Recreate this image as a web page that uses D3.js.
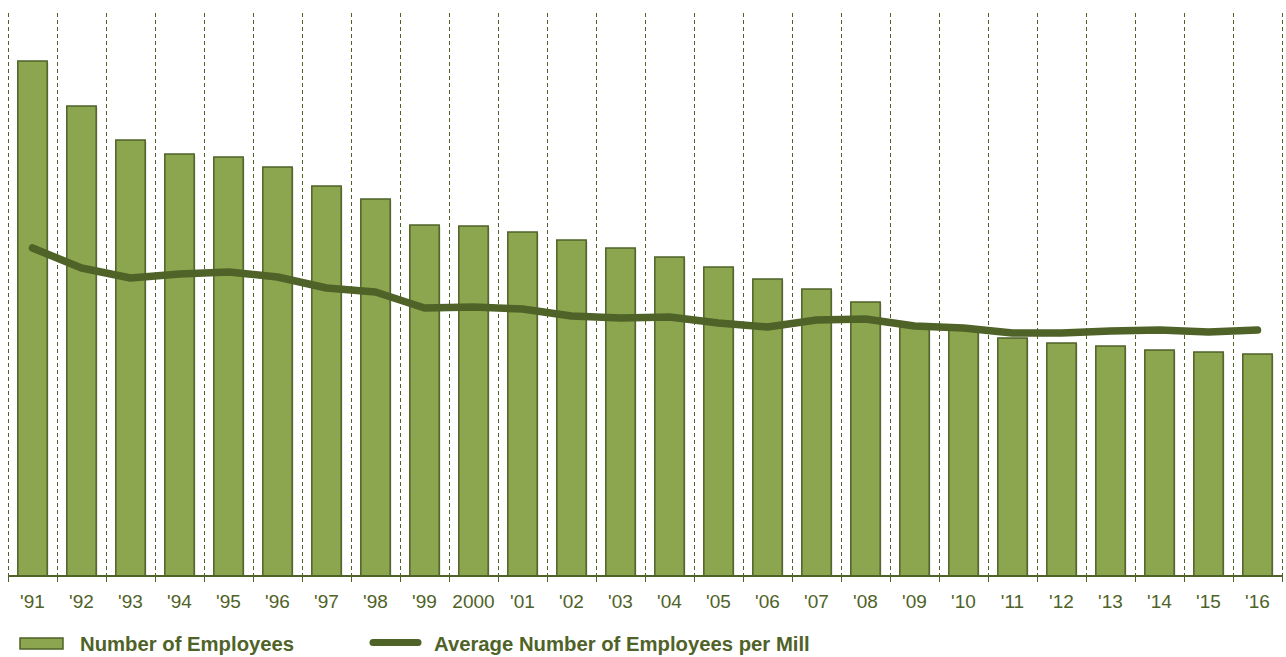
<!DOCTYPE html>
<html>
<head>
<meta charset="utf-8">
<script src="https://cdn.jsdelivr.net/npm/d3@7"></script>
<style>
  html, body { margin: 0; padding: 0; background: #fff; }
  svg { display: block; font-family: "Liberation Sans", Arial, sans-serif; }
</style>
</head>
<body>
<svg id="chart" width="1286" height="657"></svg>
<script>
// Data (relative units)
const categories = ["'91","'92","'93","'94","'95","'96","'97","'98","'99","2000","'01","'02","'03","'04","'05","'06","'07","'08","'09","'10","'11","'12","'13","'14","'15","'16"];
const employees = [515, 470, 436, 422, 419, 409, 390, 377, 351, 350, 344, 336, 328, 319, 309, 297, 287, 274, 251, 247, 238, 233, 230, 226, 224, 222];
const perMill = [328, 308, 298, 302, 304, 299, 288, 284, 268, 269, 267, 260, 258, 259, 253, 249, 256, 257, 250, 248, 243, 243, 245, 246, 244, 246];
const seriesNames = ["Number of Employees", "Average Number of Employees per Mill"];

const dark = "#4f6228";
const barFill = "#8ba64f";

const svg = d3.select("#chart");
const plotLeft = 8, plotRight = 1282, plotBase = 576, plotTop = 13;

const x = d3.scaleBand().domain(categories).range([plotLeft, plotRight]).paddingInner(0.4).paddingOuter(0.2);
const y = d3.scaleLinear().domain([0, 563]).range([plotBase, plotTop]);
const step = x.step();

// vertical dashed gridlines at category boundaries
const bounds = d3.range(categories.length + 1).map(i => plotLeft + i * step + 0.5);
svg.append("g").selectAll("line").data(bounds).join("line")
  .attr("x1", d => d).attr("x2", d => d)
  .attr("y1", plotTop).attr("y2", plotBase)
  .attr("stroke", dark).attr("stroke-width", 1).attr("stroke-dasharray", "4,3");

// bar shadows
svg.append("g").selectAll("rect").data(employees).join("rect")
  .attr("x", (d, i) => x(categories[i]) + 1.5)
  .attr("y", d => y(d) + 1.5)
  .attr("width", x.bandwidth())
  .attr("height", d => plotBase - y(d) - 1.5)
  .attr("fill", "#000").attr("opacity", 0.12);

// bars
svg.append("g").selectAll("rect").data(employees).join("rect")
  .attr("x", (d, i) => x(categories[i]))
  .attr("y", d => y(d))
  .attr("width", x.bandwidth())
  .attr("height", d => plotBase - y(d))
  .attr("fill", barFill).attr("stroke", dark).attr("stroke-width", 1.5);

// axis line & ticks
svg.append("line").attr("x1", plotLeft).attr("x2", plotRight + 1).attr("y1", plotBase).attr("y2", plotBase)
  .attr("stroke", dark).attr("stroke-width", 2);
svg.append("g").selectAll("line").data(bounds).join("line")
  .attr("x1", d => d).attr("x2", d => d).attr("y1", plotBase).attr("y2", plotBase + 6)
  .attr("stroke", dark).attr("stroke-width", 1);

// tick labels
svg.append("g").selectAll("text").data(categories).join("text")
  .attr("x", d => x(d) + x.bandwidth() / 2)
  .attr("y", 608)
  .attr("text-anchor", "middle")
  .attr("font-size", 19)
  .attr("fill", dark)
  .text(d => d);

// line
const line = d3.line()
  .x((d, i) => x(categories[i]) + x.bandwidth() / 2)
  .y(d => y(d));
svg.append("path").datum(perMill)
  .attr("d", line)
  .attr("fill", "none").attr("stroke", dark).attr("stroke-width", 7.5)
  .attr("stroke-linecap", "round").attr("stroke-linejoin", "round");

// legend
const lg = svg.append("g");
lg.append("rect").attr("x", 20).attr("y", 638).attr("width", 43).attr("height", 11)
  .attr("fill", barFill).attr("stroke", dark).attr("stroke-width", 1.5);
lg.append("text").attr("x", 80).attr("y", 651).attr("font-size", 20.3).attr("font-weight", "bold")
  .attr("fill", dark).text(seriesNames[0]);
lg.append("line").attr("x1", 373).attr("x2", 418).attr("y1", 642.5).attr("y2", 642.5)
  .attr("stroke", dark).attr("stroke-width", 7).attr("stroke-linecap", "round");
lg.append("text").attr("x", 434).attr("y", 651).attr("font-size", 20.3).attr("font-weight", "bold")
  .attr("fill", dark).text(seriesNames[1]);
</script>
</body>
</html>
